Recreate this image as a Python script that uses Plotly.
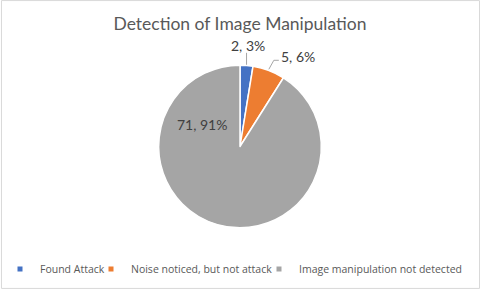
import math
import plotly.graph_objects as go

categories = ["Found Attack", "Noise noticed, but not attack", "Image manipulation not detected"]
values = [2, 5, 71]
colors = ["#4472C4", "#ED7D31", "#A5A5A5"]

W, H = 480, 289
CX, CY, R = 239.5, 146.5, 81.5  # pie centre and radius in px (layout)

fig = go.Figure(go.Pie(
    labels=categories,
    values=values,
    marker=dict(colors=colors, line=dict(color="white", width=1.5)),
    sort=False,
    direction="clockwise",
    rotation=0,
    textinfo="none",
    showlegend=False,
    domain=dict(x=[(CX - R) / W, (CX + R) / W], y=[1 - (CY + R) / H, 1 - (CY - R) / H]),
    hoverinfo="label+value+percent",
))

# legend entries (one legend per category so each can be placed like the reference)
legend_text_x = [39, 131, 299]
legend_names = ["legend", "legend2", "legend3"]
for i, (cat, col) in enumerate(zip(categories, colors)):
    fig.add_trace(go.Scatter(x=[None], y=[None], mode="markers", name=cat,
                             marker=dict(symbol="square", size=5, color=col),
                             legend=legend_names[i], hoverinfo="skip"))

total = sum(values)
labels_txt = [f"{v}, {round(v / total * 100)}%" for v in values]

annotations = []
shapes = [dict(type="rect", xref="paper", yref="paper", x0=0.001, y0=0.002, x1=0.999, y1=0.998,
               line=dict(color="#D9D9D9", width=1))]

def px2paper(x, y):
    return x / W, 1 - y / H

def path_of(pts):
    return "M " + " L ".join(f"{px2paper(*p)[0]},{px2paper(*p)[1]}" for p in pts)

cum = 0
for i, v in enumerate(values):
    mid = (cum + v / 2) / total * 2 * math.pi
    cum += v
    ex, ey = CX + R * math.sin(mid), CY - R * math.cos(mid)
    if i == 0:
        lx, ly = CX + 101 * math.sin(mid), CY - 101 * math.cos(mid)
        shapes.append(dict(type="path", xref="paper", yref="paper",
                           path=path_of([(ex, ey - 0.5), (ex, ly + 7)]),
                           line=dict(color="#A6A6A6", width=1)))
    elif i == 1:
        lx, ly = ex + 29, ey - 14
        shapes.append(dict(type="path", xref="paper", yref="paper",
                           path=path_of([(ex, ey - 1), (ex + 5, ey - 10), (ex + 10, ey - 10)]),
                           line=dict(color="#A6A6A6", width=1)))
    else:
        lx, ly = CX - 38.5, CY - 22.5
    px, py = px2paper(lx, ly)
    annotations.append(dict(text=labels_txt[i], x=px, y=py, xref="paper", yref="paper",
                             xanchor="center", yanchor="middle", showarrow=False,
                             font=dict(family="Lato, Open Sans, sans-serif", size=14, color="#404040")))

legend_font = dict(family="Open Sans, Noto Sans, sans-serif", size=10.5, color="#595959")
legend_layout = {}
for i, name in enumerate(legend_names):
    legend_layout[name] = dict(orientation="h", x=(legend_text_x[i] - 40) / W, xanchor="left",
                               y=1 - 269 / H, yanchor="middle", font=legend_font,
                               itemwidth=30, bgcolor="rgba(0,0,0,0)", borderwidth=0)

fig.update_layout(
    width=W, height=H,
    margin=dict(l=0, r=0, t=0, b=0),
    paper_bgcolor="white",
    plot_bgcolor="white",
    xaxis=dict(visible=False),
    yaxis=dict(visible=False),
    title=dict(text="Detection of Image Manipulation", x=0.5, xanchor="center",
               y=1 - 24 / H, yanchor="middle",
               font=dict(family="Lato, Open Sans, sans-serif", size=17.5, color="#595959")),
    annotations=annotations,
    shapes=shapes,
    **legend_layout,
)

fig.write_html("out.html", config={"displayModeBar": False},
               post_script="document.body.style.margin='0';")
